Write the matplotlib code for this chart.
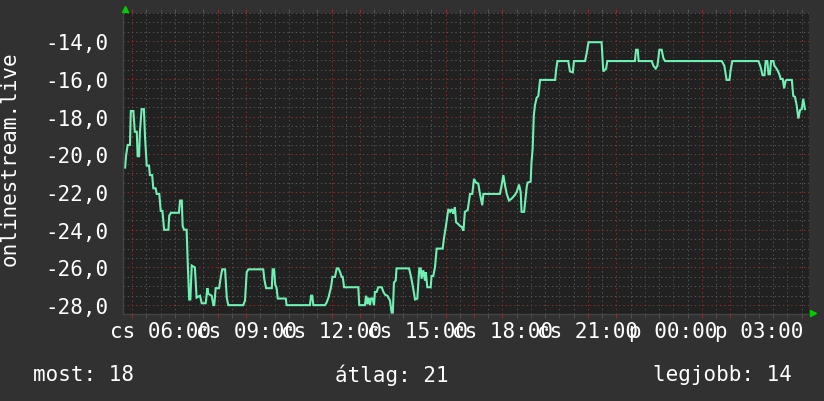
import matplotlib
matplotlib.use("Agg")
import matplotlib.pyplot as plt
from matplotlib.ticker import MultipleLocator, FixedLocator, FuncFormatter

# ---- data (hours since Thursday 00:00, measured value) ----
hours = [
    4.75, 4.78, 4.84, 4.92, 4.95, 5.04, 5.09, 5.16, 5.19, 5.24,
    5.27, 5.33, 5.41, 5.45, 5.51, 5.59, 5.62, 5.70, 5.74, 5.82,
    5.86, 5.95, 6.00, 6.06, 6.12, 6.27, 6.30, 6.36, 6.64, 6.68,
    6.74, 6.77, 6.82, 6.91, 6.95, 7.00, 7.04, 7.09, 7.20, 7.26,
    7.38, 7.44, 7.58, 7.64, 7.67, 7.79, 7.85, 7.88, 7.93, 8.05,
    8.12, 8.16, 8.26, 8.32, 8.37, 8.90, 8.96, 9.02, 9.08, 9.60,
    9.64, 9.70, 9.90, 9.93, 9.98, 10.02, 10.07, 10.11, 10.19, 10.39,
    10.42,
    11.24, 11.28, 11.32, 11.36, 11.77, 11.83, 11.89, 11.98, 12.03, 12.12,
    12.18, 12.24, 12.30, 12.35, 12.39, 12.44, 12.94, 12.97, 13.17, 13.21,
    13.25, 13.29, 13.35, 13.38, 13.44, 13.49, 13.52, 13.58, 13.64, 13.76,
    13.82, 13.88, 13.96, 14.01, 14.05, 14.11, 14.15, 14.19, 14.25, 14.28,
    14.72, 14.79, 14.87, 14.93, 15.01, 15.08, 15.13, 15.16, 15.22, 15.28,
    15.31, 15.36, 15.48, 15.51, 15.57, 15.63, 15.69, 15.90, 15.95, 16.01,
    16.10, 16.16, 16.22, 16.27, 16.33, 16.37, 16.45, 16.51, 16.57, 16.63,
    16.68, 16.78, 16.86, 16.94, 17.00, 17.07, 17.15, 17.21, 17.29, 17.33,
    17.91, 17.97, 18.03, 18.09, 18.15, 18.23, 18.32, 18.44, 18.50, 18.58,
    18.64, 18.67, 18.76, 18.81, 18.85, 18.88, 18.99, 19.02, 19.06, 19.10,
    19.14, 19.20, 19.26, 19.32, 19.85, 19.88, 19.93, 20.31, 20.37, 20.47,
    20.51, 20.90, 20.96, 21.02, 21.48, 21.54, 21.64, 21.68, 22.65, 22.69,
    22.75, 22.78, 23.24, 23.30, 23.38, 23.44, 23.51, 23.59, 23.65, 23.71,
    25.70, 25.79, 25.87, 25.97, 26.01, 26.07, 26.99, 27.07, 27.13, 27.20,
    27.24, 27.30, 27.34, 27.39, 27.43, 27.51, 27.55, 27.60, 27.66, 27.72,
    27.77, 27.84, 27.89, 27.94, 27.98, 28.16, 28.21, 28.27, 28.33, 28.39,
    28.45, 28.51, 28.56, 28.62,
]
values = [
    -20.7, -20.1, -19.5, -19.5, -17.7, -17.7, -18.8, -18.8, -20.1, -20.1,
    -18.8, -17.6, -17.6, -19.1, -20.6, -20.6, -21.1, -21.1, -21.8, -21.8,
    -22.1, -22.1, -23.0, -23.0, -24.0, -24.0, -23.25, -23.1, -23.1, -22.45,
    -22.45, -23.8, -24.0, -24.0, -25.8, -27.7, -27.7, -25.9, -26.0, -27.6,
    -27.5, -27.9, -27.9, -27.1, -27.4, -27.5, -28.0, -28.0, -27.1, -27.1,
    -26.4, -26.1, -26.1, -27.6, -28.0, -28.0, -27.75, -26.25, -26.1, -26.1,
    -26.65, -27.1, -27.1, -26.1, -26.1, -26.9, -27.1, -27.65, -27.65, -27.65,
    -28.0,
    -28.0, -27.5, -27.5, -28.0, -28.0, -27.85, -27.6, -27.05, -26.5, -26.5,
    -26.05, -26.05, -26.25, -26.5, -26.5, -27.05, -27.05, -28.0, -28.0, -27.5,
    -27.95, -27.6, -28.0, -27.65, -27.65, -28.0, -27.3, -27.3, -27.05, -27.05,
    -27.3, -27.45, -27.5, -27.65, -27.75, -28.4, -28.4, -26.8, -26.7, -26.05,
    -26.05, -26.5, -27.15, -27.7, -27.65, -26.05, -26.05, -26.6, -26.15, -26.7,
    -26.25, -27.05, -27.05, -26.45, -26.45, -26.0, -25.0, -25.0, -24.4, -23.85,
    -22.9, -23.05, -22.9, -23.15, -22.8, -23.6, -23.7, -23.8, -23.85, -24.05,
    -23.05, -22.95, -22.1, -22.1, -21.3, -21.5, -21.55, -22.1, -22.7, -22.1,
    -22.1, -21.65, -21.1, -21.65, -22.1, -22.45, -22.35, -22.15, -22.0, -21.6,
    -22.0, -23.05, -23.05, -22.35, -21.75, -21.5, -21.45, -20.4, -19.7, -17.95,
    -17.4, -17.0, -16.9, -16.05, -16.05, -15.55, -15.05, -15.05, -15.6, -15.65,
    -15.05, -15.05, -14.6, -14.05, -14.05, -15.6, -15.45, -15.05, -15.05, -14.45,
    -14.45, -15.05, -15.05, -15.3, -15.45, -15.3, -14.45, -14.45, -14.9, -15.05,
    -15.05, -15.3, -16.05, -16.05, -15.55, -15.05, -15.05, -15.4, -15.8, -15.8,
    -15.05, -15.05, -15.75, -15.75, -15.05, -15.05, -15.3, -15.4, -15.55, -15.75,
    -16.0, -16.0, -16.5, -16.1, -16.05, -16.05, -16.9, -16.95, -17.4, -18.1,
    -17.65, -17.6, -17.05, -17.6,
]
x_label_hours = [6, 9, 12, 15, 18, 21, 24, 27]
x_labels = ["cs 06:00", "cs 09:00", "cs 12:00", "cs 15:00",
            "cs 18:00", "cs 21:00", "p 00:00", "p 03:00"]
y_ticks = [-28, -26, -24, -22, -20, -18, -16, -14]
axis_title = "onlinestream.live"
footer_now = "most: 18"
footer_avg = "átlag: 21"
footer_best = "legjobb: 14"

# ---- style ----
W, H = 824, 402
BG = "#313131"
PLOT_BG = "#212121"
MGRID = "#7f3232"
GRID = "#545454"
LINE = "#6ff0b5"
TXT = "#ffffff"
FONT = "DejaVu Sans Mono"
FS = 15

fig = plt.figure(figsize=(W / 100, H / 100), dpi=100, facecolor=BG)
L, R, T, B = 123, 809, 14, 315
ax = fig.add_axes([L / W, (H - B) / H, (R - L) / W, (B - T) / H])
ax.set_facecolor(PLOT_BG)

ax.set_xlim(4.676, 28.763)
ax.set_ylim(-28.47, -12.5)

dots = (0, (1.4, 2.8))
ax.xaxis.set_major_locator(MultipleLocator(1.0))
ax.xaxis.set_minor_locator(MultipleLocator(0.5))
ax.yaxis.set_major_locator(FixedLocator(y_ticks))
ax.yaxis.set_minor_locator(MultipleLocator(0.5))
ax.grid(which="minor", color=GRID, linestyle=dots, linewidth=0.72)
ax.grid(which="major", color=MGRID, linestyle=dots, linewidth=0.72)
ax.set_axisbelow(True)

label_map = dict(zip(x_label_hours, x_labels))
ax.xaxis.set_major_formatter(FuncFormatter(
    lambda v, p: label_map.get(int(round(v)), "") if abs(v - round(v)) < 1e-6 else ""))
ax.yaxis.set_major_formatter(FuncFormatter(
    lambda v, p: ("%.1f" % v).replace(".", ",").replace("\u2212", "-")))

ax.tick_params(axis="x", which="major", length=3, width=0.72, color=MGRID,
               pad=2.2, labelsize=FS, labelcolor=TXT, top=True)
ax.tick_params(axis="x", which="minor", length=3, width=0.72, color=GRID,
               top=True)
ax.tick_params(axis="y", which="both", length=0, pad=10.5,
               labelsize=FS, labelcolor=TXT)
for lab in ax.get_xticklabels() + ax.get_yticklabels():
    lab.set_fontfamily(FONT)

for s in ["top", "right"]:
    ax.spines[s].set_visible(False)
for s in ["left", "bottom"]:
    ax.spines[s].set_color("#444444")
    ax.spines[s].set_linewidth(1.0)

# data line
ax.plot(hours, values, color=LINE, linewidth=1.5, solid_joinstyle="miter")

# axis arrows
ax.plot([0.003], [1.012], marker="^", color="#00cc00", markersize=4.5,
        transform=ax.transAxes, clip_on=False)
ax.plot([1.006], [0.002], marker=">", color="#00cc00", markersize=4.5,
        transform=ax.transAxes, clip_on=False)

# texts
fig.text(10 / W, 1 - 159 / H, axis_title, rotation=90, ha="center",
         va="center", color=TXT, fontsize=FS, family=FONT)
yb = 1 - 373 / H
fig.text(33 / W, yb, footer_now, ha="left", va="center_baseline",
         color=TXT, fontsize=FS, family=FONT)
fig.text(392 / W, yb, footer_avg, ha="center", va="center_baseline",
         color=TXT, fontsize=FS, family=FONT)
fig.text(792 / W, yb, footer_best, ha="right", va="center_baseline",
         color=TXT, fontsize=FS, family=FONT)

fig.savefig("out.png", dpi=100, facecolor=BG)
